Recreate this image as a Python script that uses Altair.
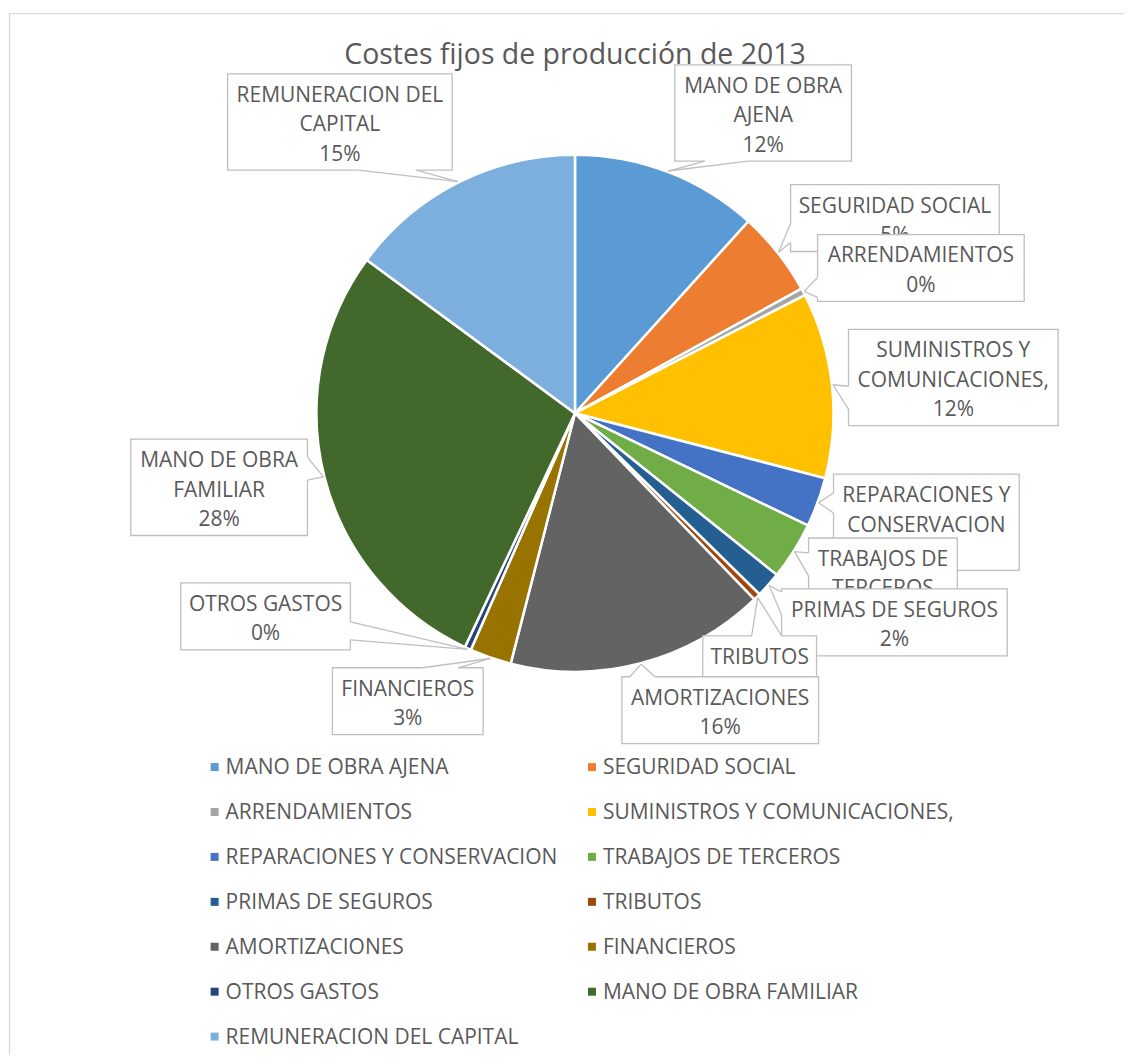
import math
import altair as alt
import pandas as pd

# ---------------- data ----------------
CATEGORIES = [
    "MANO DE OBRA AJENA",
    "SEGURIDAD SOCIAL",
    "ARRENDAMIENTOS",
    "SUMINISTROS Y COMUNICACIONES,",
    "REPARACIONES Y CONSERVACION",
    "TRABAJOS DE TERCEROS",
    "PRIMAS DE SEGUROS",
    "TRIBUTOS",
    "AMORTIZACIONES",
    "FINANCIEROS",
    "OTROS GASTOS",
    "MANO DE OBRA FAMILIAR",
    "REMUNERACION DEL CAPITAL",
]
VALUES = [11.7, 5.3, 0.45, 11.6, 3.1, 3.6, 1.6, 0.45, 16.2, 2.6, 0.4, 28.1, 14.9]
COLORS = [
    "#5B9BD5", "#ED7D31", "#A5A5A5", "#FFC000", "#4472C4", "#70AD47", "#255E91",
    "#9E480E", "#636363", "#997300", "#264478", "#43682B", "#7CAFDD",
]
TITLE = "Costes fijos de producción de 2013"
LABEL_LINES = [
    ["MANO DE OBRA", "AJENA"],
    ["SEGURIDAD SOCIAL"],
    ["ARRENDAMIENTOS"],
    ["SUMINISTROS Y", "COMUNICACIONES,"],
    ["REPARACIONES Y", "CONSERVACION"],
    ["TRABAJOS DE", "TERCEROS"],
    ["PRIMAS DE SEGUROS"],
    ["TRIBUTOS"],
    ["AMORTIZACIONES"],
    ["FINANCIEROS"],
    ["OTROS GASTOS"],
    ["MANO DE OBRA", "FAMILIAR"],
    ["REMUNERACION DEL", "CAPITAL"],
]

# ---------------- layout (page pixels) ----------------
W, H = 1117, 1048
OFF = 8
CX, CY, R = 575 - OFF, 413 - OFF, 259
FONT = "Open Sans"
TXT = "#595959"
LINE_H = 29.5
LABEL_SIZE = 21
# callout boxes: left, top, right, side of pointer, pointer base start, end
BOXES = [
    (675, 64, 852, "bottom", 705, 748),
    (791, 184, 1000, "left", 223, 242),
    (818, 234, 1025, "left", 277, 297),
    (849, 329, 1059, "left", 386, 409),
    (834, 474, 1020, "left", 493, 513),
    (809, 538, 958, "left", 553, 576),
    (782, 589, 1008, "left", 592, 615),
    (703, 636, 817, "top", 752, 782),
    (622, 677, 819, "top", 630, 655),
    (332, 668, 483, "top", 422, 458),
    (180, 583, 350, "right", 622, 640),
    (130, 439, 307, "right", 457, 480),
    (227, 73, 452, "bottom", 358, 416),
]

total = sum(VALUES)
xs = alt.Scale(domain=[0, W], nice=False, zero=False)
ys = alt.Scale(domain=[0, H], nice=False, zero=False, reverse=True)
cs = alt.Scale(domain=CATEGORIES, range=COLORS)

pie_df = pd.DataFrame({"cat": CATEGORIES, "value": VALUES, "idx": list(range(len(VALUES)))})
pie = alt.Chart(pie_df).mark_arc(outerRadius=R, stroke="white", strokeWidth=2.5).encode(
    theta=alt.Theta("value:Q", stack=True),
    order=alt.Order("idx:Q", sort="ascending"),
    color=alt.Color("cat:N", scale=cs, legend=None),
    x=alt.value(CX),
    y=alt.value(CY),
)

layers = [pie]

cum = 0.0
for i, (cat, v) in enumerate(zip(CATEGORIES, VALUES)):
    mid = (cum + v / 2) / total * 2 * math.pi
    cum += v
    tipx = CX + (R + 1) * math.sin(mid)
    tipy = CY - (R + 1) * math.cos(mid)
    pct = round(v / total * 100)
    lines = LABEL_LINES[i] + [f"{pct}%"]
    left, top, right, side, b1, b2 = BOXES[i]
    left, top, right = left - OFF, top - OFF, right - OFF
    bottom = top + LINE_H * len(lines) + 8
    b1, b2 = b1 - OFF, b2 - OFF
    if side == "bottom":
        bases = [(b1, bottom), (b2, bottom)]
    elif side == "top":
        bases = [(b1, top), (b2, top)]
    elif side == "left":
        bases = [(left, b1), (left, b2)]
    else:
        bases = [(right, b1), (right, b2)]

    box_df = pd.DataFrame({"x": [left], "x2": [right], "y": [top], "y2": [bottom]})
    layers.append(
        alt.Chart(box_df).mark_rect(fill="white", stroke="#BFBFBF", strokeWidth=1.3).encode(
            x=alt.X("x:Q", scale=xs, axis=None), x2="x2:Q",
            y=alt.Y("y:Q", scale=ys, axis=None), y2="y2:Q",
        )
    )
    gap_df = pd.DataFrame({"x": [bases[0][0]], "y": [bases[0][1]], "x2": [bases[1][0]], "y2": [bases[1][1]]})
    layers.append(
        alt.Chart(gap_df).mark_rule(color="white", strokeWidth=2.5).encode(
            x=alt.X("x:Q", scale=xs, axis=None), x2="x2:Q",
            y=alt.Y("y:Q", scale=ys, axis=None), y2="y2:Q",
        )
    )
    ptr_df = pd.DataFrame({
        "x": [bases[0][0], bases[1][0]], "y": [bases[0][1], bases[1][1]],
        "x2": [tipx, tipx], "y2": [tipy, tipy],
    })
    layers.append(
        alt.Chart(ptr_df).mark_rule(color="#BFBFBF", strokeWidth=1.3).encode(
            x=alt.X("x:Q", scale=xs, axis=None), x2="x2:Q",
            y=alt.Y("y:Q", scale=ys, axis=None), y2="y2:Q",
        )
    )
    txt_df = pd.DataFrame({
        "x": [(left + right) / 2] * len(lines),
        "y": [top + 22 + LINE_H * j for j in range(len(lines))],
        "t": lines,
    })
    layers.append(
        alt.Chart(txt_df).mark_text(font=FONT, fontSize=LABEL_SIZE, color=TXT, align="center", baseline="middle").encode(
            x=alt.X("x:Q", scale=xs, axis=None),
            y=alt.Y("y:Q", scale=ys, axis=None),
            text="t:N",
        )
    )

# manual legend (two columns)
leg_df = pd.DataFrame({
    "cat": CATEGORIES,
    "sx": [[214, 592][i % 2] - OFF for i in range(len(CATEGORIES))],
    "tx": [[225, 603][i % 2] - OFF for i in range(len(CATEGORIES))],
    "y": [767.5 - OFF + 45 * (i // 2) for i in range(len(CATEGORIES))],
})
layers.append(
    alt.Chart(leg_df).mark_square(size=64, opacity=1).encode(
        x=alt.X("sx:Q", scale=xs, axis=None),
        y=alt.Y("y:Q", scale=ys, axis=None),
        color=alt.Color("cat:N", scale=cs, legend=None),
    )
)
layers.append(
    alt.Chart(leg_df).mark_text(font=FONT, fontSize=LABEL_SIZE, color=TXT, align="left", baseline="middle", dy=1).encode(
        x=alt.X("tx:Q", scale=xs, axis=None),
        y=alt.Y("y:Q", scale=ys, axis=None),
        text="cat:N",
    )
)

# title
title_df = pd.DataFrame({"x": [575 - OFF], "y": [63 - OFF], "t": [TITLE]})
layers.append(
    alt.Chart(title_df).mark_text(font=FONT, fontSize=28.5, color=TXT, align="center", baseline="alphabetic").encode(
        x=alt.X("x:Q", scale=xs, axis=None),
        y=alt.Y("y:Q", scale=ys, axis=None),
        text="t:N",
    )
)

# chart border (left and top edges)
border_df = pd.DataFrame({"x": [0.5, 0.0], "x2": [0.5, W], "y": [4.7, 4.7], "y2": [H, 4.7]})
layers.append(
    alt.Chart(border_df).mark_rule(color="#D9D9D9", strokeWidth=1.3).encode(
        x=alt.X("x:Q", scale=xs, axis=None), x2="x2:Q",
        y=alt.Y("y:Q", scale=ys, axis=None), y2="y2:Q",
    )
)

chart = alt.layer(*layers).properties(
    width=W, height=H, padding=0, background="white"
).configure_view(stroke=None)

chart.save("out.html", embed_options={"renderer": "svg", "actions": False})
